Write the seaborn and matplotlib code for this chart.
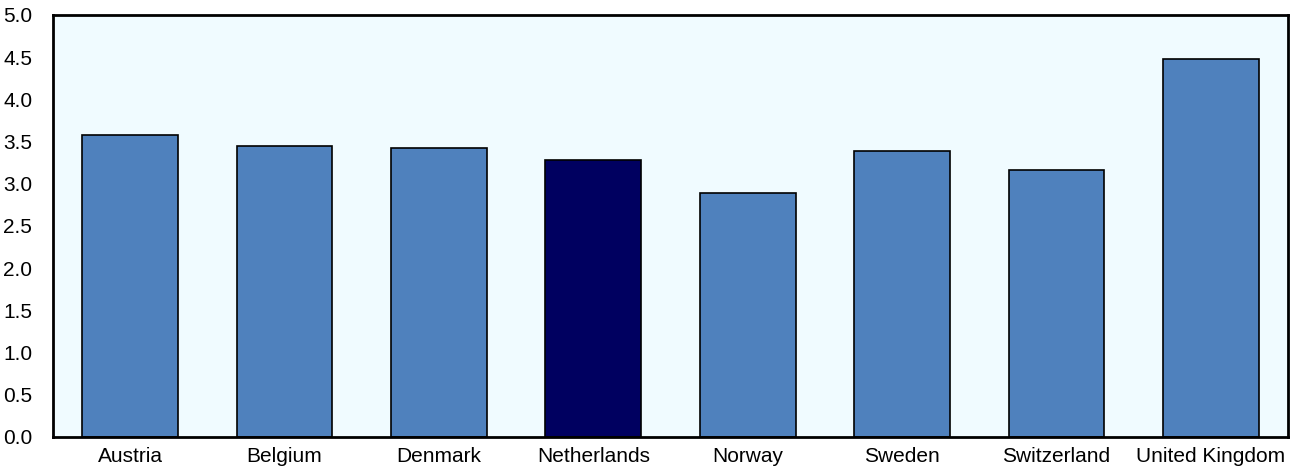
import matplotlib
matplotlib.use("Agg")
import matplotlib.pyplot as plt
import seaborn as sns
import pandas as pd

countries = ["Austria", "Belgium", "Denmark", "Netherlands", "Norway",
             "Sweden", "Switzerland", "United Kingdom"]
values = [3.58, 3.45, 3.43, 3.28, 2.89, 3.39, 3.16, 4.48]
highlight = "Netherlands"
yticks = [0.0, 0.5, 1.0, 1.5, 2.0, 2.5, 3.0, 3.5, 4.0, 4.5, 5.0]

sns.set_theme(style="white")
plt.rcParams["font.family"] = ["Liberation Sans Narrow", "Liberation Sans", "DejaVu Sans"]

df = pd.DataFrame({"country": countries, "value": values})
palette = {c: ("#000060" if c == highlight else "#4F81BD") for c in countries}

fig = plt.figure(figsize=(12.99, 4.74), dpi=100)
ax = fig.add_axes([53/1299, 1 - 437/474, (1288-53)/1299, (437-15)/474])
sns.barplot(data=df, x="country", y="value", hue="country", palette=palette,
            width=0.62, edgecolor="black", linewidth=1.2, saturation=1,
            legend=False, ax=ax)
ax.set_facecolor("#F0FBFF")
ax.set_ylim(0, 5)
ax.set_xlim(-0.5, len(countries) - 0.5)
ax.set_yticks(yticks)
ax.set_yticklabels([f"{t:.1f}" for t in yticks], fontsize=15)
ax.tick_params(axis="y", direction="in", length=6, width=2, color="black", pad=15, labelcolor="black")
ax.tick_params(axis="x", length=0, labelsize=15, labelcolor="black", pad=7)
ax.set_xlabel("")
ax.set_ylabel("")
for s in ax.spines.values():
    s.set_visible(True)
    s.set_color("black")
    s.set_linewidth(2)
fig.savefig("out.png", dpi=100)
